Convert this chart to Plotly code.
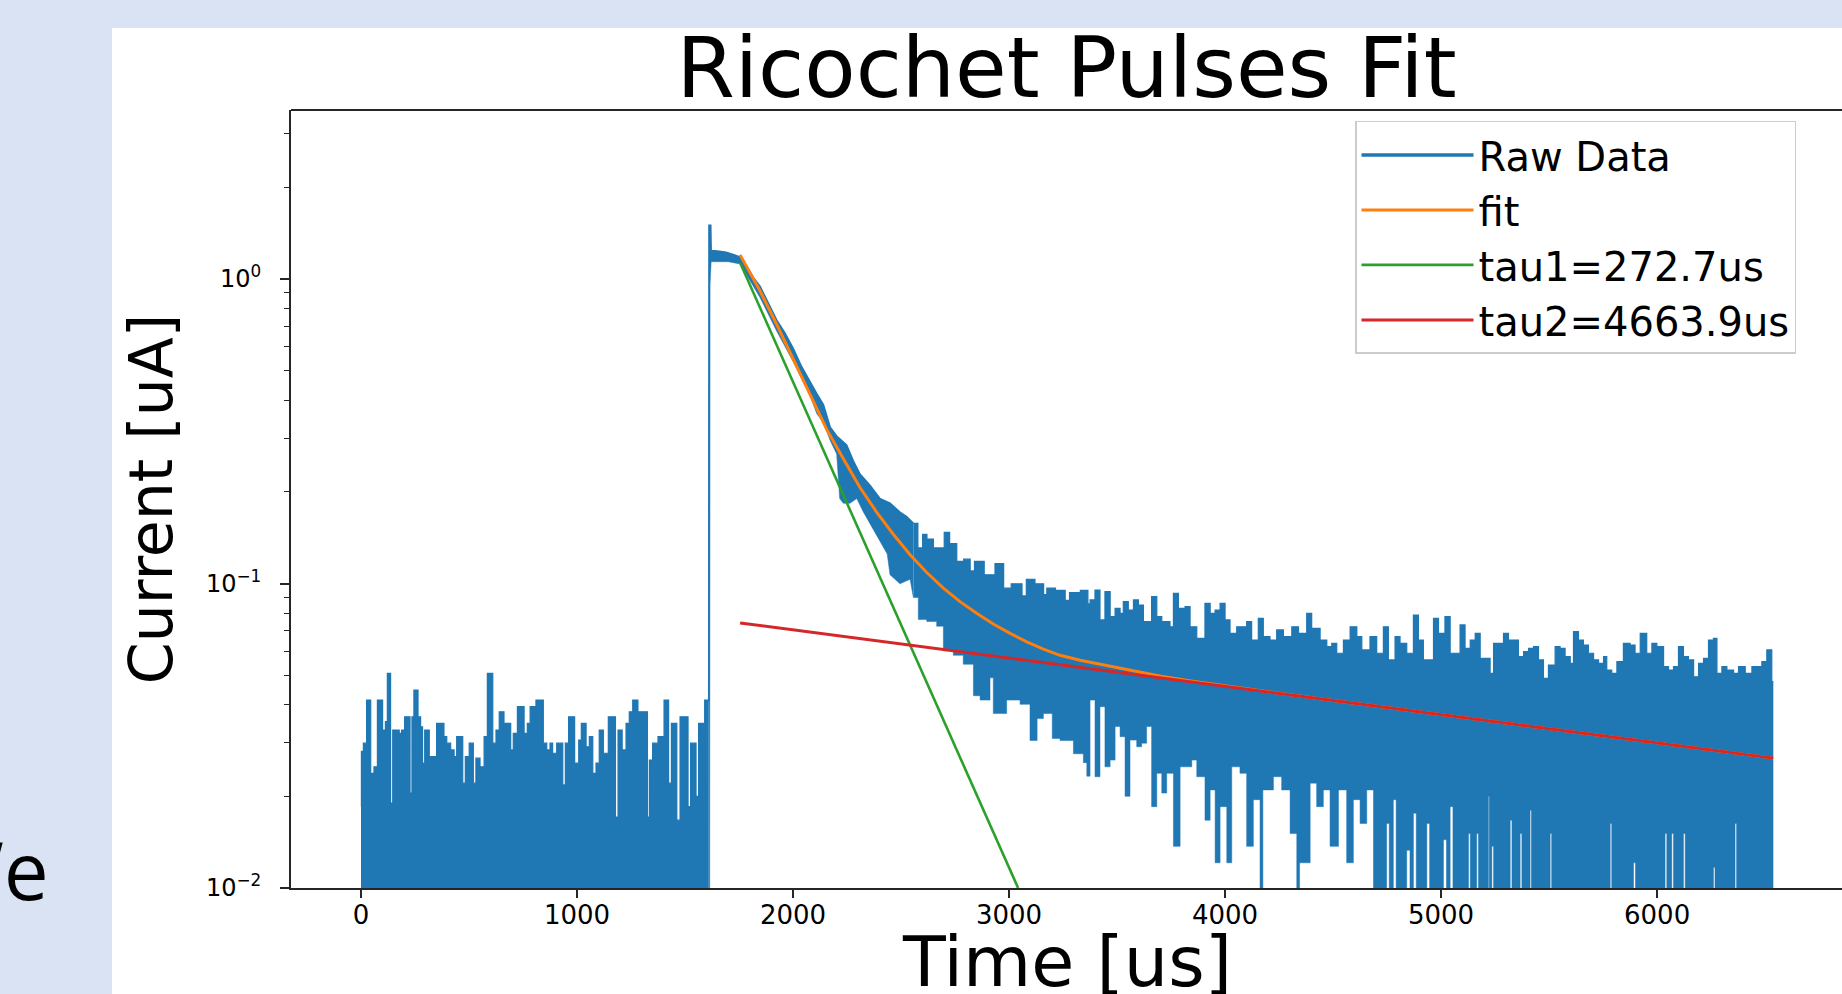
import plotly.graph_objects as go

# ---------------- data ----------------
# Raw data, pre-pulse baseline: upper envelope (step), lower clipped below axis
pre_t = [0, 2, 11, 26, 45, 60, 76, 100, 113, 122, 137, 147, 177, 188, 202, 227, 236, 245, 264, 276,
         285, 295, 316, 350, 384, 397, 415, 431, 443, 471, 483, 501, 520, 532, 551, 570, 585, 610, 625, 640,
         662, 693, 705, 724, 755, 770, 783, 810, 844, 860, 875, 887, 906, 934, 946, 961, 989, 1008, 1020, 1042,
         1057, 1073, 1088, 1103, 1122, 1145, 1178, 1190, 1209, 1227, 1242, 1258, 1282, 1326, 1335, 1350, 1375, 1403, 1424, 1437,
         1462, 1477, 1514, 1526, 1551, 1563, 1591, 1610]
pre_v = [0.0185, 0.0281, 0.0299, 0.0414, 0.0238, 0.025, 0.0414, 0.033, 0.0352, 0.0507, 0.019, 0.033, 0.0322, 0.033, 0.0365, 0.0205, 0.0365, 0.0447, 0.0365, 0.0338,
         0.0257, 0.033, 0.027, 0.0347, 0.0314, 0.0299, 0.0284, 0.027, 0.0314, 0.0221, 0.027, 0.0299, 0.0221, 0.0267, 0.025, 0.0314, 0.0507, 0.0299, 0.033, 0.0379,
         0.0347, 0.0284, 0.0322, 0.0394, 0.0322, 0.0347, 0.0394, 0.0414, 0.0299, 0.0284, 0.0299, 0.0277, 0.0299, 0.0218, 0.0299, 0.0365, 0.0257, 0.0306, 0.0347, 0.0291,
         0.0314, 0.0238, 0.0257, 0.033, 0.0277, 0.0365, 0.0171, 0.033, 0.0284, 0.0347, 0.0379, 0.0414, 0.0379, 0.0171, 0.0263, 0.0299, 0.0314, 0.0414, 0.0221, 0.0347,
         0.0167, 0.0365, 0.0185, 0.0299, 0.02, 0.0347, 0.0414, 0.0414]
pre_low_t = [0, 1610]
pre_low_v = [0.005, 0.005]

# Raw data, pulse and fast decay: upper and lower edges of the trace band
decay_up_t = [1610, 1611, 1619, 1621, 1650, 1690, 1730, 1755, 1786, 1817, 1847, 1886, 1924, 1963, 2002, 2040,
              2079, 2110, 2141, 2172, 2202, 2248, 2279, 2310, 2356, 2403, 2449, 2495, 2526, 2557]
decay_up_v = [0.041, 1.50, 1.50, 1.24, 1.235, 1.225, 1.20, 1.18, 1.10, 1.01, 0.947, 0.827, 0.734, 0.664, 0.590, 0.515,
              0.4575, 0.4203, 0.386, 0.326, 0.305, 0.285, 0.253, 0.2287, 0.210, 0.190, 0.1835, 0.1715, 0.1658, 0.1576]
decay_low_t = [1610, 1614, 1616, 1621, 1700, 1755, 1847, 1924, 2002, 2079, 2110, 2141, 2172, 2202, 2216, 2233,
               2264, 2295, 2326, 2372, 2418, 2436, 2449, 2495, 2542, 2557]
decay_low_v = [0.005, 0.005, 0.96, 1.14, 1.14, 1.12, 0.87, 0.675, 0.533, 0.4135, 0.361, 0.3374, 0.2946, 0.2662, 0.19, 0.1835,
               0.1835, 0.19, 0.1715, 0.1499, 0.1309, 0.125, 0.1068, 0.0998, 0.1032, 0.09]

# Raw data, slow tail: upper and lower edges (step)
tail_up_t = [2557, 2578, 2600, 2620, 2650, 2700, 2725, 2758, 2790, 2820, 2840, 2885, 2935, 2975, 3010, 3060, 3080, 3120,
             3160, 3175, 3215, 3260, 3280, 3330, 3365,
             3375, 3398, 3421, 3444, 3468, 3491, 3514, 3529, 3552, 3576, 3599, 3622, 3660, 3684, 3707, 3745, 3761, 3784,
             3815, 3838, 3869, 3907, 3931, 3954, 3977, 4000, 4023, 4054, 4100, 4123, 4154, 4177, 4208, 4239, 4270, 4309,
             4340, 4378, 4401, 4440, 4471, 4494, 4517, 4548, 4579, 4610, 4633, 4671, 4702, 4733, 4756, 4787, 4810, 4841,
             4872, 4895, 4918, 4965, 4988, 5018,
             5042, 5088, 5111, 5135, 5158, 5181, 5227, 5243, 5289, 5312, 5358, 5382, 5405, 5428, 5451, 5474, 5497, 5528,
             5551, 5574, 5598, 5613, 5636, 5659, 5682, 5706, 5729, 5752, 5767, 5790, 5814, 5844, 5875, 5898, 5922, 5952,
             5976, 5999, 6030, 6053, 6076, 6099, 6122, 6145, 6169, 6192, 6215, 6238, 6261, 6277, 6300, 6323, 6354, 6377,
             6408, 6439, 6462, 6485, 6508, 6531, 6538]
tail_up_v = [0.1576, 0.1309, 0.145, 0.140, 0.1309, 0.1473, 0.1353, 0.1182, 0.1202, 0.110, 0.1182, 0.1068, 0.1162, 0.0965, 0.0998, 0.091, 0.1032, 0.0998,
             0.092, 0.0965, 0.0949, 0.088, 0.0933, 0.0949, 0.0857,
             0.0883, 0.0952, 0.0759, 0.0940, 0.0778, 0.0829, 0.0798, 0.0872, 0.0818, 0.0883, 0.0850, 0.0749, 0.0905, 0.0778, 0.0749, 0.0721, 0.0928, 0.0829,
             0.0839, 0.0721, 0.0660, 0.0861, 0.0798, 0.0818, 0.0861, 0.0759, 0.0686, 0.0721, 0.0749, 0.0652, 0.0768, 0.0669, 0.0652, 0.0704, 0.0669, 0.0721,
             0.0686, 0.0798, 0.0712, 0.0652, 0.0620, 0.0636, 0.0590, 0.0652, 0.0721, 0.0669, 0.0605, 0.0669, 0.0590, 0.0721, 0.0561, 0.0669, 0.0636, 0.0590,
             0.0788, 0.0652, 0.0561, 0.0768, 0.0686, 0.0778,
             0.0590, 0.0731, 0.0612, 0.0652, 0.0686, 0.0568, 0.0507, 0.0636, 0.0686, 0.0652, 0.0575, 0.0597, 0.0612, 0.0620, 0.0561, 0.0488, 0.0540, 0.0620,
             0.0612, 0.0575, 0.0547, 0.0695, 0.0652, 0.0628, 0.0590, 0.0561, 0.0547, 0.0575, 0.0520, 0.0507, 0.0554, 0.0636, 0.0628, 0.0590, 0.0686, 0.0590,
             0.0636, 0.0620, 0.0533, 0.0520, 0.0533, 0.0620, 0.0575, 0.0561, 0.0494, 0.0547, 0.0568, 0.0652, 0.0660, 0.0507, 0.0533, 0.0520, 0.0507, 0.0533,
             0.0507, 0.0533, 0.0533, 0.0554, 0.0605, 0.0476, 0.0476]
tail_low_t = [2557, 2580, 2619, 2665, 2696, 2742, 2788, 2835, 2866, 2912, 2927, 2989, 3051, 3097, 3130, 3159, 3200, 3236, 3298, 3344, 3360,
              3375, 3398, 3421, 3444, 3468, 3491, 3514, 3537, 3560, 3591, 3614, 3637, 3660, 3684, 3707, 3730, 3761, 3792, 3823, 3846,
              3869, 3907, 3931, 3954, 3977, 4008, 4031, 4069, 4100, 4131, 4162, 4175, 4224, 4262, 4301, 4332, 4345, 4394, 4424, 4455,
              4486, 4525, 4563, 4594, 4625, 4656, 4687, 4748, 4760, 4779, 4792, 4841, 4856, 4872, 4885, 4934, 4947, 5011, 5025, 5042,
              5055, 5127, 5135, 5165, 5173, 5219, 5223, 5235, 5243, 5320, 5328, 5366, 5374, 5412, 5418, 5505, 5512, 5783, 5790, 5891,
              5900, 6037, 6045, 6068, 6076, 6122, 6130, 6261, 6268, 6361, 6368, 6538]
tail_low_v = [0.09, 0.0762, 0.0750, 0.0724, 0.0601, 0.0581, 0.0543, 0.0428, 0.0414, 0.0490, 0.0374, 0.0414, 0.0401, 0.0305, 0.036, 0.0374, 0.031, 0.0305, 0.0276, 0.0258, 0.0233,
              0.0414, 0.0232, 0.0394, 0.0250, 0.0263, 0.0339, 0.0314, 0.0200, 0.0306, 0.0291, 0.0299, 0.0339, 0.0185, 0.0238, 0.0205, 0.0238, 0.0137, 0.0250, 0.0250, 0.0263,
              0.0232, 0.0167, 0.0210, 0.0121, 0.0185, 0.0121, 0.0250, 0.0238, 0.0137, 0.0195, 0.005, 0.0210, 0.0232, 0.0210, 0.0151, 0.005, 0.0121, 0.0221, 0.0185, 0.0210,
              0.0137, 0.0210, 0.0121, 0.0195, 0.0163, 0.0210, 0.005, 0.0163, 0.005, 0.0195, 0.005, 0.0133, 0.005, 0.0176, 0.005, 0.0163, 0.005, 0.0144, 0.005, 0.0185,
              0.005, 0.0151, 0.005, 0.0151, 0.005, 0.0200, 0.005, 0.0137, 0.005, 0.0167, 0.005, 0.0151, 0.005, 0.0180, 0.005, 0.0151, 0.005, 0.0163, 0.005, 0.0121,
              0.005, 0.0151, 0.005, 0.0151, 0.005, 0.0151, 0.005, 0.0117, 0.005, 0.0163, 0.005, 0.005]

# Fit curve (orange) and its two exponential components
fit_t = [1755, 1847, 1924, 2002, 2079, 2156, 2233, 2310, 2387, 2465, 2542, 2619, 2696, 2773, 2850, 2927, 3005, 3082, 3159, 3236,
         3329, 3421, 3560, 3704, 3850, 4000, 4250, 4500, 5000, 5500, 6000, 6537]
fit_v = [1.20, 0.915, 0.710, 0.542, 0.4135, 0.3206, 0.257, 0.2066, 0.1716, 0.1449, 0.1243, 0.1087, 0.0965, 0.0872, 0.0798, 0.0736, 0.0686, 0.0643, 0.0609, 0.0581,
         0.0560, 0.0543, 0.0518, 0.0496, 0.0478, 0.0461, 0.0436, 0.0413, 0.0371, 0.0333, 0.0300, 0.0267]
tau1_t = [1755, 3042]
tau1_v = [1.13, 0.01]
tau2_t = [1755, 6537]
tau2_v = [0.0742, 0.0267]

names = ["Raw Data", "fit", "tau1=272.7us", "tau2=4663.9us"]
x_ticks = [0, 1000, 2000, 3000, 4000, 5000, 6000]
y_ticks = [0.01, 0.1, 1]
y_ticktext = ["10<sup>\u22122</sup>", "10<sup>\u22121</sup>", "10<sup>0</sup>"]
y_minor = [0.02, 0.03, 0.04, 0.05, 0.06, 0.07, 0.08, 0.09, 0.2, 0.3, 0.4, 0.5, 0.6, 0.7, 0.8, 0.9, 2, 3]

BLUE, ORANGE, GREEN, RED = "#1f77b4", "#ff7f0e", "#2ca02c", "#d62728"
FONT = "DejaVu Sans"
AX = "#262626"
SLIDE = "#dae3f3"

fig = go.Figure()

def band(lt, lv, ut, uv, shape, uw):
    fig.add_trace(go.Scatter(x=lt, y=lv, mode="lines", line=dict(color=BLUE, width=0.5, shape=shape),
                             showlegend=False, hoverinfo="skip"))
    fig.add_trace(go.Scatter(x=ut, y=uv, mode="lines", line=dict(color=BLUE, width=uw, shape=shape),
                             fill="tonexty", fillcolor=BLUE, showlegend=False, hoverinfo="skip"))

band(pre_low_t, pre_low_v, pre_t, pre_v, "hv", 1.2)
band(decay_low_t, decay_low_v, decay_up_t, decay_up_v, "linear", 1.6)
band(tail_low_t, tail_low_v, tail_up_t, tail_up_v, "hv", 1.2)

fig.add_trace(go.Scatter(x=[None], y=[None], mode="lines", line=dict(color=BLUE, width=3.5), name=names[0]))
fig.add_trace(go.Scatter(x=fit_t, y=fit_v, mode="lines", line=dict(color=ORANGE, width=3), name=names[1]))
fig.add_trace(go.Scatter(x=tau1_t, y=tau1_v, mode="lines", line=dict(color=GREEN, width=2.6), name=names[2]))
fig.add_trace(go.Scatter(x=tau2_t, y=tau2_v, mode="lines", line=dict(color=RED, width=3), name=names[3]))

fig.update_layout(
    width=1842, height=994, autosize=False,
    margin=dict(l=291, r=0, t=110, b=106, pad=0, autoexpand=False),
    paper_bgcolor=SLIDE, plot_bgcolor="white",
    font=dict(family=FONT, color="black"),
    title=dict(text="Ricochet Pulses Fit", x=0.5, xref="paper", xanchor="center",
               y=1 - 68 / 994, yref="container", yanchor="middle", font=dict(size=84, family=FONT)),
    legend=dict(x=(1355 - 291) / 1551, y=0.986, xanchor="left", yanchor="top", bgcolor="rgba(255,255,255,0.85)",
                bordercolor="#cccccc", borderwidth=1.5, font=dict(size=40, family=FONT),
                itemwidth=112, tracegroupgap=0, traceorder="normal"),
    xaxis=dict(range=[-324, 6856], tickmode="array", tickvals=x_ticks, ticktext=[str(v) for v in x_ticks],
               ticks="outside", ticklen=8, tickwidth=1.8, tickcolor=AX, showline=True, linecolor=AX, linewidth=1.8,
               showgrid=False, zeroline=False, tickfont=dict(size=26, family=FONT, color="black"),
               ticklabelstandoff=-5, automargin=False),
    yaxis=dict(type="log", range=[-2, 0.555], tickmode="array", tickvals=y_ticks, ticktext=y_ticktext,
               ticks="outside", ticklen=9, tickwidth=1.8, tickcolor=AX, showline=True, linecolor=AX, linewidth=1.8,
               showgrid=False, zeroline=False, tickfont=dict(size=24, family=FONT, color="black"),
               ticklabelstandoff=14, automargin=False,
               minor=dict(tickmode="array", tickvals=y_minor, ticks="outside", ticklen=5, tickwidth=1.4, tickcolor=AX),
               title=dict(text="Current [uA]", font=dict(size=60, family=FONT), standoff=14)),
    shapes=[
        dict(type="rect", xref="paper", yref="paper", x0=(112 - 291) / 1551, x1=1.05, y0=-0.3, y1=(888 - 28) / 778,
             fillcolor="white", line=dict(width=0), layer="below"),
        dict(type="line", xref="paper", yref="paper", x0=0, x1=1.02, y0=1, y1=1, line=dict(color=AX, width=1.8)),
    ],
    annotations=[
        # x-axis title, placed as in the reference (its lower edge is cut by the slide)
        dict(text="Time [us]", xref="paper", yref="paper", x=0.5, y=(888 - 962) / 778, xanchor="center",
             yanchor="middle", showarrow=False, font=dict(family=FONT, size=70, color="black")),
        dict(text="We", xref="paper", yref="paper", x=(51 - 291) / 1551, y=(888 - 868) / 778, xanchor="right",
             yanchor="middle", showarrow=False, font=dict(family="Open Sans", size=80, color="black")),
    ],
)

fig.write_html("out.html", config={"displayModeBar": False},
               post_script="document.body.style.margin='0px';document.body.style.background='%s';" % SLIDE)
